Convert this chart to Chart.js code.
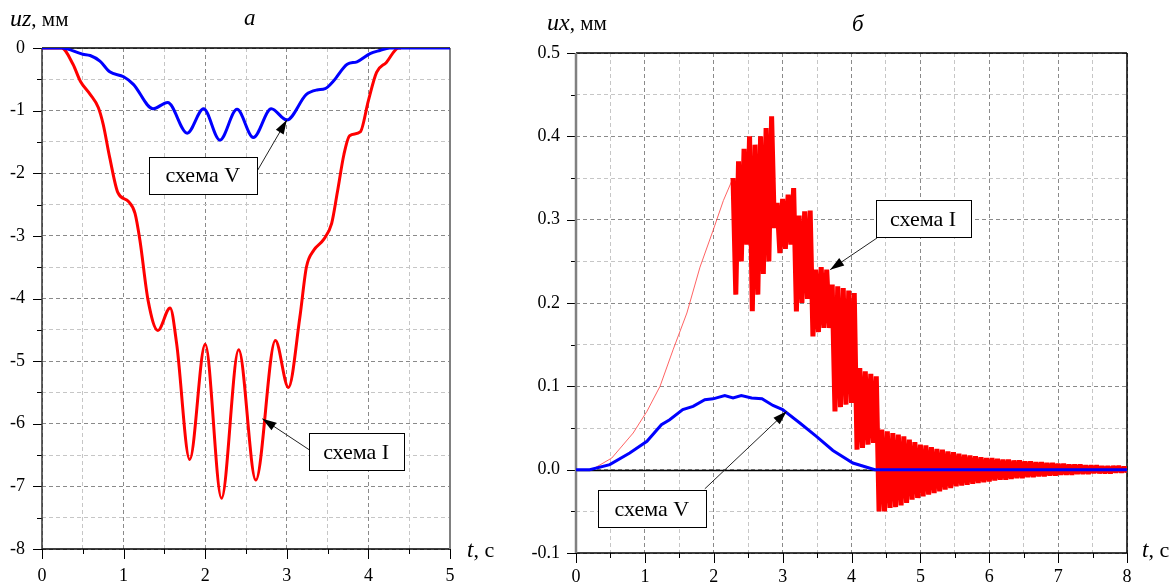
<!DOCTYPE html>
<html>
<head>
<meta charset="utf-8">
<script src="https://cdn.jsdelivr.net/npm/chart.js@4/dist/chart.umd.min.js"></script>
<style>
  body { margin: 0; background: #fff; }
  #wrap { position: relative; width: 1176px; height: 584px; }
  canvas { position: absolute; top: 0; }
  #left_chart { left: 0; }
  #right_chart { left: 520px; }
</style>
</head>
<body>
<div id="wrap">
  <canvas id="left_chart" width="520" height="584"></canvas>
  <canvas id="right_chart" width="656" height="584"></canvas>
</div>
<script>
// panel "а": vertical displacement uz (mm) vs time t (s)
const left_t_blue  = [0, 0.24, 0.5, 0.59, 0.71, 0.83, 1.0, 1.12, 1.36, 1.54, 1.78, 1.98, 2.18, 2.39, 2.59, 2.81, 3.0, 3.24, 3.37, 3.47, 3.57, 3.74, 3.86, 4.02, 4.14, 4.26, 5];
const left_uz_blue = [0, 0, -0.1, -0.12, -0.21, -0.38, -0.46, -0.58, -0.97, -0.87, -1.36, -0.97, -1.47, -0.98, -1.43, -0.97, -1.15, -0.74, -0.67, -0.65, -0.53, -0.26, -0.22, -0.09, -0.04, 0, 0];

const left_t_red  = [0, 0.24, 0.38, 0.47, 0.59, 0.69, 0.75, 0.83, 0.93, 1.06, 1.14, 1.2, 1.3, 1.42, 1.57, 1.65, 1.81, 2.0, 2.2, 2.41, 2.62, 2.86, 3.02, 3.16, 3.24, 3.33, 3.45, 3.55, 3.62, 3.7, 3.77, 3.9, 4.0, 4.1, 4.22, 4.37, 4.4];
const left_uz_red = [0, 0, -0.26, -0.53, -0.74, -0.95, -1.22, -1.75, -2.31, -2.45, -2.64, -3.07, -4.03, -4.51, -4.15, -4.72, -6.57, -4.73, -7.19, -4.82, -6.9, -4.67, -5.42, -4.3, -3.5, -3.23, -3.06, -2.8, -2.3, -1.7, -1.4, -1.34, -0.84, -0.39, -0.23, 0, 0];

// panel "б": horizontal displacement ux (mm) vs time t (s)
const right_t_blue  = [0, 0.2, 0.49, 0.78, 1.03, 1.24, 1.36, 1.55, 1.7, 1.87, 1.99, 2.16, 2.28, 2.4, 2.55, 2.7, 2.86, 3.0, 3.25, 3.49, 3.73, 4.02, 4.34, 8];
const right_ux_blue = [0, 0, 0.006, 0.02, 0.034, 0.054, 0.06, 0.072, 0.076, 0.084, 0.085, 0.089, 0.086, 0.089, 0.086, 0.085, 0.077, 0.072, 0.056, 0.04, 0.023, 0.008, 0, 0];

const right_t_red_rise  = [0, 0.23, 0.52, 0.83, 1.03, 1.22, 1.41, 1.61, 1.8, 1.99, 2.14, 2.28];
const right_ux_red_rise = [0, 0, 0.014, 0.044, 0.07, 0.1, 0.144, 0.188, 0.243, 0.287, 0.323, 0.35];

const right_t_red_osc = [
  2.28, 2.32, 2.36, 2.40, 2.44, 2.48, 2.52, 2.56, 2.60, 2.64,
  2.68, 2.72, 2.76, 2.80, 2.84, 2.88, 2.92, 2.96, 3.00, 3.04,
  3.08, 3.12, 3.16, 3.20, 3.24, 3.28, 3.32, 3.36, 3.40, 3.44,
  3.48, 3.52, 3.56, 3.60, 3.64, 3.68, 3.72, 3.76, 3.80, 3.84,
  3.88, 3.92, 3.96, 4.00, 4.04, 4.08, 4.12, 4.16, 4.20, 4.24,
  4.28, 4.32, 4.36, 4.40, 4.44, 4.48, 4.52, 4.56, 4.60, 4.64,
  4.68, 4.72, 4.76, 4.80, 4.84, 4.88, 4.92, 4.96, 5.00, 5.04,
  5.08, 5.12, 5.16, 5.20, 5.24, 5.28, 5.32, 5.36, 5.40, 5.44,
  5.48, 5.52, 5.56, 5.60, 5.64, 5.68, 5.72, 5.76, 5.80, 5.84,
  5.88, 5.92, 5.96, 6.00, 6.04, 6.08, 6.12, 6.16, 6.20, 6.24,
  6.28, 6.32, 6.36, 6.40, 6.44, 6.48, 6.52, 6.56, 6.60, 6.64,
  6.68, 6.72, 6.76, 6.80, 6.84, 6.88, 6.92, 6.96, 7.00, 7.04,
  7.08, 7.12, 7.16, 7.20, 7.24, 7.28, 7.32, 7.36, 7.40, 7.44,
  7.48, 7.52, 7.56, 7.60, 7.64, 7.68, 7.72, 7.76, 7.80, 7.84,
  7.88, 7.92, 7.96, 8.00
];
const right_ux_red_osc = [
  0.35, 0.21, 0.37, 0.25, 0.385, 0.27, 0.40, 0.19, 0.39, 0.21,
  0.40, 0.235, 0.41, 0.25, 0.424, 0.29, 0.32, 0.26, 0.325, 0.265,
  0.33, 0.27, 0.338, 0.19, 0.305, 0.20, 0.31, 0.205, 0.311, 0.16,
  0.24, 0.165, 0.243, 0.17, 0.24, 0.17, 0.222, 0.07, 0.22, 0.075,
  0.218, 0.078, 0.215, 0.08, 0.212, 0.024, 0.122, 0.026, 0.118, 0.03,
  0.115, 0.032, 0.112, -0.05, 0.048, -0.05, 0.046, -0.046, 0.044, -0.045,
  0.042, -0.043, 0.04, -0.04, 0.036, -0.036, 0.033, -0.034, 0.03, -0.032,
  0.029, -0.03, 0.027, -0.028, 0.025, -0.026, 0.024, -0.024, 0.022, -0.022,
  0.021, -0.02, 0.019, -0.019, 0.018, -0.018, 0.017, -0.017, 0.016, -0.016,
  0.015, -0.015, 0.014, -0.014, 0.014, -0.013, 0.013, -0.012, 0.012, -0.012,
  0.012, -0.011, 0.011, -0.01, 0.011, -0.01, 0.01, -0.009, 0.01, -0.009,
  0.009, -0.008, 0.009, -0.008, 0.008, -0.007, 0.008, -0.007, 0.007, -0.006,
  0.007, -0.006, 0.006, -0.006, 0.006, -0.005, 0.006, -0.005, 0.005, -0.005,
  0.005, -0.004, 0.005, -0.004, 0.004, -0.004, 0.004, -0.004, 0.004, -0.003,
  0.004, -0.003, 0.003, -0.003
];

// tick labels
const left_x_labels  = [0, 1, 2, 3, 4, 5];
const left_y_labels  = [0, -1, -2, -3, -4, -5, -6, -7, -8];
const right_x_labels = [0, 1, 2, 3, 4, 5, 6, 7, 8];
const right_y_labels = [0.5, 0.4, 0.3, 0.2, 0.1, 0.0, -0.1];

const SERIF = "'Liberation Serif', 'Times New Roman', serif";
Chart.defaults.font.family = SERIF;
Chart.defaults.font.size = 18;
Chart.defaults.color = '#000';

function zip(xs, ys) {
  return xs.map((x, i) => ({ x: x, y: ys[i] }));
}

function in_list(v, list) {
  return list.some(l => Math.abs(l - v) < 1e-6);
}

// callouts, positioned in data units (box centre, arrow tail, arrow head)
const left_notes = [
  { text: 'схема V', at: [1.97, -2.03], w: 108, tail: [2.63, -1.98], head: [3.0, -1.15] },
  { text: 'схема I', at: [3.85, -6.45], w: 95, tail: [3.28, -6.42], head: [2.7, -5.92] }
];
const right_notes = [
  { text: 'схема I', at: [5.04, 0.301], w: 95, tail: [4.37, 0.278], head: [3.69, 0.24] },
  { text: 'схема V', at: [1.1, -0.047], w: 108, tail: [1.87, -0.023], head: [3.06, 0.07] }
];

function decor(opts) {
  return {
    id: 'decor',
    beforeDatasetsDraw(chart) {
      const ctx = chart.ctx, a = chart.chartArea;
      const xs = chart.scales.x, ys = chart.scales.y;
      ctx.save();
      ctx.setLineDash([]);
      // tick marks
      ctx.strokeStyle = '#000';
      ctx.lineWidth = 1;
      xs.ticks.forEach(tk => {
        const px = Math.round(xs.getPixelForValue(tk.value)) + 0.5;
        const len = in_list(tk.value, opts.x_labels) ? 10 : 5;
        ctx.beginPath(); ctx.moveTo(px, a.bottom); ctx.lineTo(px, a.bottom + len); ctx.stroke();
      });
      ys.ticks.forEach(tk => {
        const py = Math.round(ys.getPixelForValue(tk.value)) + 0.5;
        const len = in_list(tk.value, opts.y_labels) ? 9 : 5;
        ctx.beginPath(); ctx.moveTo(a.left - len, py); ctx.lineTo(a.left, py); ctx.stroke();
      });
      // zero line
      if (opts.zero_line) {
        const py = Math.round(ys.getPixelForValue(0)) + 0.5;
        ctx.strokeStyle = '#000';
        ctx.lineWidth = 1.5;
        ctx.beginPath(); ctx.moveTo(a.left, py); ctx.lineTo(a.right, py); ctx.stroke();
      }
      // frame
      ctx.lineWidth = 1.5;
      ctx.strokeStyle = '#000';
      ctx.beginPath();
      ctx.moveTo(a.left, a.top); ctx.lineTo(a.right, a.top);
      ctx.moveTo(a.left, a.bottom); ctx.lineTo(a.right, a.bottom);
      ctx.stroke();
      ctx.strokeStyle = opts.right_color;
      ctx.lineWidth = opts.right_width;
      ctx.beginPath(); ctx.moveTo(a.right, a.top); ctx.lineTo(a.right, a.bottom); ctx.stroke();
      ctx.strokeStyle = opts.left_color;
      ctx.lineWidth = opts.left_width;
      ctx.beginPath(); ctx.moveTo(a.left, a.top); ctx.lineTo(a.left, a.bottom); ctx.stroke();
      ctx.restore();
    },
    afterDraw(chart) {
      const ctx = chart.ctx;
      const xs = chart.scales.x, ys = chart.scales.y;
      ctx.save();
      ctx.fillStyle = '#000';
      ctx.textBaseline = 'alphabetic';
      // axis titles
      ctx.textAlign = 'left';
      ctx.font = 'italic 24px ' + SERIF;
      ctx.fillText(opts.y_name, opts.y_title[0], opts.y_title[1]);
      let w = ctx.measureText(opts.y_name).width;
      ctx.font = '21px ' + SERIF;
      ctx.fillText(', мм', opts.y_title[0] + w, opts.y_title[1]);
      ctx.font = 'italic 23px ' + SERIF;
      ctx.fillText('t', opts.x_title[0], opts.x_title[1]);
      w = ctx.measureText('t').width;
      ctx.font = '22px ' + SERIF;
      ctx.fillText(', с', opts.x_title[0] + w, opts.x_title[1]);
      ctx.font = 'italic 23px ' + SERIF;
      ctx.fillText(opts.panel, opts.panel_at[0], opts.panel_at[1]);

      // callouts
      opts.notes.forEach(n => {
        const tx = xs.getPixelForValue(n.tail[0]), ty = ys.getPixelForValue(n.tail[1]);
        const hx = xs.getPixelForValue(n.head[0]), hy = ys.getPixelForValue(n.head[1]);
        ctx.strokeStyle = '#222';
        ctx.lineWidth = 1;
        ctx.beginPath(); ctx.moveTo(tx, ty); ctx.lineTo(hx, hy); ctx.stroke();
        const ang = Math.atan2(hy - ty, hx - tx);
        ctx.beginPath();
        ctx.moveTo(hx, hy);
        ctx.lineTo(hx - 14 * Math.cos(ang) + 4.5 * Math.sin(ang), hy - 14 * Math.sin(ang) - 4.5 * Math.cos(ang));
        ctx.lineTo(hx - 14 * Math.cos(ang) - 4.5 * Math.sin(ang), hy - 14 * Math.sin(ang) + 4.5 * Math.cos(ang));
        ctx.closePath();
        ctx.fillStyle = '#000';
        ctx.fill();

        const cx = xs.getPixelForValue(n.at[0]), cy = ys.getPixelForValue(n.at[1]);
        const bh = 37;
        const bx = Math.round(cx - n.w / 2) + 0.5, by = Math.round(cy - bh / 2) + 0.5;
        ctx.fillStyle = '#fff';
        ctx.fillRect(bx, by, n.w, bh);
        ctx.strokeStyle = '#000';
        ctx.strokeRect(bx, by, n.w, bh);
        ctx.fillStyle = '#000';
        ctx.font = '22px ' + SERIF;
        ctx.textAlign = 'center';
        ctx.textBaseline = 'middle';
        ctx.fillText(n.text, cx, cy + 1);
        ctx.textAlign = 'left';
        ctx.textBaseline = 'alphabetic';
      });
      ctx.restore();
    }
  };
}

function grid_color(majors) {
  return c => in_list(c.tick.value, majors) ? '#8a8a8a' : '#c6c6c6';
}

// left chart: uz
new Chart(document.getElementById('left_chart'), {
  type: 'line',
  data: {
    datasets: [
      { label: 'схема V', data: zip(left_t_blue, left_uz_blue), borderColor: '#0000ff', borderWidth: 3, cubicInterpolationMode: 'monotone' },
      { label: 'схема I', data: zip(left_t_red, left_uz_red), borderColor: '#ff0000', borderWidth: 3, cubicInterpolationMode: 'monotone' }
    ]
  },
  options: {
    responsive: false,
    animation: false,
    layout: { padding: { top: 48, right: 70, left: 0, bottom: 0 } },
    elements: { point: { radius: 0 } },
    plugins: { legend: { display: false }, tooltip: { enabled: false } },
    scales: {
      x: {
        type: 'linear', min: 0, max: 5,
        ticks: { stepSize: 0.5, autoSkip: false, maxRotation: 0, padding: 16,
          callback: v => in_list(v, left_x_labels) ? String(Math.round(v)) : '' },
        grid: { color: grid_color(left_x_labels), drawTicks: false },
        border: { display: false, dash: [4, 3] },
        afterFit: s => { s.height = 35; }
      },
      y: {
        type: 'linear', min: -8, max: 0,
        ticks: { stepSize: 0.5, autoSkip: false, padding: 17,
          callback: v => in_list(v, left_y_labels) ? String(Math.round(v)) : '' },
        grid: { color: grid_color(left_y_labels), drawTicks: false },
        border: { display: false, dash: [4, 3] },
        afterFit: s => { s.width = 42; }
      }
    }
  },
  plugins: [decor({
    x_labels: left_x_labels, y_labels: left_y_labels, zero_line: false,
    left_color: '#333', left_width: 1.5, right_color: '#808080', right_width: 2,
    y_name: 'uz', y_title: [10, 26], x_title: [467, 557], panel: 'а', panel_at: [244, 25],
    notes: left_notes
  })]
});

// right chart: ux
new Chart(document.getElementById('right_chart'), {
  type: 'line',
  data: {
    datasets: [
      { label: 'схема V', data: zip(right_t_blue, right_ux_blue), borderColor: '#0000ff', borderWidth: 3, tension: 0 },
      { label: 'схема I', data: zip(right_t_red_osc, right_ux_red_osc), borderColor: '#ff0000', borderWidth: 5, borderJoinStyle: 'bevel', tension: 0 },
      { label: 'схема I', data: zip(right_t_red_rise, right_ux_red_rise), borderColor: 'rgba(255,60,60,0.8)', borderWidth: 1, tension: 0 }
    ]
  },
  options: {
    responsive: false,
    animation: false,
    layout: { padding: { top: 53, right: 49, left: 0, bottom: 0 } },
    elements: { point: { radius: 0 } },
    plugins: { legend: { display: false }, tooltip: { enabled: false } },
    scales: {
      x: {
        type: 'linear', min: 0, max: 8,
        ticks: { stepSize: 0.5, autoSkip: false, maxRotation: 0, padding: 13,
          callback: v => in_list(v, right_x_labels) ? String(Math.round(v)) : '' },
        grid: { color: grid_color(right_x_labels), drawTicks: false },
        border: { display: false, dash: [4, 3] },
        afterFit: s => { s.height = 31; }
      },
      y: {
        type: 'linear', min: -0.1, max: 0.5,
        ticks: { stepSize: 0.05, autoSkip: false, padding: 16,
          callback: v => in_list(v, right_y_labels) ? (Math.abs(v) < 1e-9 ? '0.0' : v.toFixed(1)) : '' },
        grid: { color: grid_color(right_y_labels), drawTicks: false },
        border: { display: false, dash: [4, 3] },
        afterFit: s => { s.width = 56; }
      }
    }
  },
  plugins: [decor({
    x_labels: right_x_labels, y_labels: right_y_labels, zero_line: true,
    left_color: '#808080', left_width: 2.5, right_color: '#000', right_width: 1.5,
    y_name: 'ux', y_title: [27, 30], x_title: [622, 557], panel: 'б', panel_at: [332, 31],
    notes: right_notes
  })]
});
</script>
</body>
</html>
